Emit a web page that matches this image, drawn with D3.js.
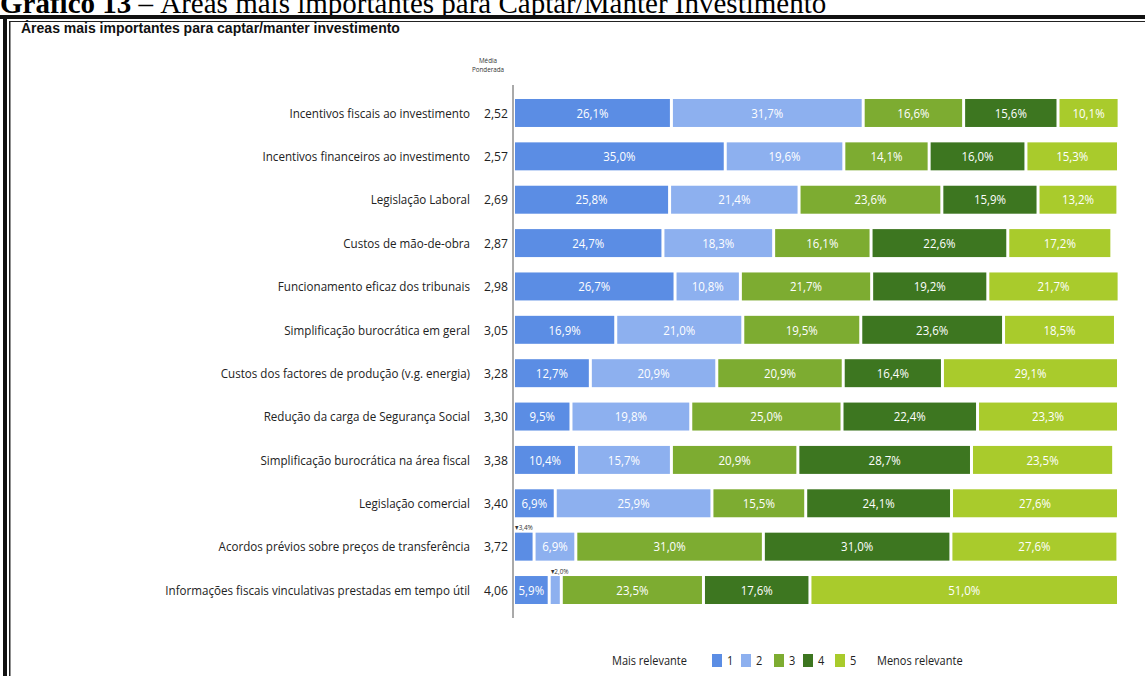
<!DOCTYPE html>
<html><head><meta charset="utf-8">
<script src="https://cdn.jsdelivr.net/npm/d3@7"></script>
<style>
html,body{margin:0;padding:0;background:#fff;}
svg{display:block;}
</style></head>
<body>
<svg id="c" width="1145" height="676"></svg>
<script>
const categories = [
  "Incentivos fiscais ao investimento",
  "Incentivos financeiros ao investimento",
  "Legislação Laboral",
  "Custos de mão-de-obra",
  "Funcionamento eficaz dos tribunais",
  "Simplificação burocrática em geral",
  "Custos dos factores de produção (v.g. energia)",
  "Redução da carga de Segurança Social",
  "Simplificação burocrática na área fiscal",
  "Legislação comercial",
  "Acordos prévios sobre preços de transferência",
  "Informações fiscais vinculativas prestadas em tempo útil"
];
const medias = ["2,52","2,57","2,69","2,87","2,98","3,05","3,28","3,30","3,38","3,40","3,72","4,06"];
const s1 = [26.1,35.0,25.8,24.7,26.7,16.9,12.7,9.5,10.4,6.9,3.4,5.9];
const s2 = [31.7,19.6,21.4,18.3,10.8,21.0,20.9,19.8,15.7,25.9,6.9,2.0];
const s3 = [16.6,14.1,23.6,16.1,21.7,19.5,20.9,25.0,20.9,15.5,31.0,23.5];
const s4 = [15.6,16.0,15.9,22.6,19.2,23.6,16.4,22.4,28.7,24.1,31.0,17.6];
const s5 = [10.1,15.3,13.2,17.2,21.7,18.5,29.1,23.3,23.5,27.6,27.6,51.0];
const seriesNames = ["1","2","3","4","5"];
const colors = ["#5b8de4","#8db0ef","#7dac31","#3d7620","#a9cb2c"];
const headerTitle = "Gráfico 13";
const headerRest = " – Áreas mais importantes para Captar/Manter Investimento";
const chartTitle = "Áreas mais importantes para captar/manter investimento";
const legendLeft = "Mais relevante";
const legendRight = "Menos relevante";

const series = [s1,s2,s3,s4,s5];
const svg = d3.select("#c");
const sans = "'Open Sans',sans-serif";

// condensed text helper: draws text squeezed horizontally
function ctext(parent, x, y, str, o) {
  o = o || {};
  return parent.append("text")
    .attr("transform", `translate(${x},${y}) scale(${o.sx || 0.87},1)`)
    .attr("x",0).attr("y",0).attr("dy", o.dy || "0.35em")
    .attr("text-anchor", o.anchor || "start")
    .attr("font-family", sans).attr("font-size", o.size || 13)
    .attr("fill", o.fill || "#222").text(str);
}

// header
svg.append("text").attr("x",0).attr("y",13)
  .attr("font-family","'Liberation Serif','Times New Roman',serif").attr("font-size",29)
  .attr("fill","#000")
  .call(t=>{ t.append("tspan").attr("font-weight","bold").text(headerTitle);
             t.append("tspan").text(headerRest); });

// frame
svg.append("rect").attr("x",0).attr("y",15).attr("width",1145).attr("height",4).attr("fill","#111");
svg.append("rect").attr("x",9).attr("y",21).attr("width",1136).attr("height",1).attr("fill","#222");
svg.append("rect").attr("x",3).attr("y",15).attr("width",4).attr("height",661).attr("fill","#111");
svg.append("rect").attr("x",9).attr("y",21).attr("width",1.5).attr("height",655).attr("fill","#222");

svg.append("text").attr("x",21).attr("y",33).attr("font-family","'Liberation Sans',Arial,sans-serif")
  .attr("font-weight","bold").attr("font-size",14).attr("fill","#111").text(chartTitle);

ctext(svg, 488, 61, "Média", {anchor:"middle", size:7, fill:"#333", sx:0.9});
ctext(svg, 488, 70, "Ponderada", {anchor:"middle", size:7, fill:"#333", sx:0.9});

const x = d3.scaleLinear().domain([0,100]).range([515,1120]);
const y = d3.scaleBand().domain(categories).range([91.3,611.7]).paddingInner(0.355).paddingOuter(0.1775);

svg.append("line").attr("x1",513).attr("x2",513).attr("y1",85).attr("y2",618)
  .attr("stroke","#555").attr("stroke-width",1);

// category labels
const g = svg.append("g");
categories.forEach((c,i)=>{
  const cy = y(c)+y.bandwidth()/2;
  ctext(g, 470, cy, c, {anchor:"end", size:13.5, sx:0.86});
  ctext(g, 508, cy, medias[i], {anchor:"end", size:13.5, sx:0.9});
});

// bars
const fmt = v => d3.format(".1f")(v).replace(".",",")+"%";
categories.forEach((c,i)=>{
  let cum = 0;
  series.forEach((s,k)=>{
    const v = s[i];
    const x0 = x(cum), x1 = x(cum+v);
    const w = Math.max(1, x1-x0-3);
    g.append("rect").attr("x",x0).attr("y",y(c)).attr("width",w).attr("height",y.bandwidth())
      .attr("fill",colors[k]);
    const cy = y(c)+y.bandwidth()/2;
    if (v >= 5) {
      ctext(g, x0+w/2, cy, fmt(v), {anchor:"middle", size:13.5, fill:"#fff", sx:0.85});
    } else {
      ctext(g, x0, y(c)-5, "▾"+fmt(v), {anchor:"start", size:7.5, fill:"#333", sx:0.85});
    }
    cum += v;
  });
});

// legend
const ly = 661;
ctext(svg, 612, ly, legendLeft, {size:12.5, sx:0.88});
const lx = [712,741,774,803,835];
seriesNames.forEach((n,k)=>{
  svg.append("rect").attr("x",lx[k]).attr("y",ly-7).attr("width",10).attr("height",13).attr("fill",colors[k]);
  ctext(svg, lx[k]+15, ly, n, {size:12.5, sx:0.88});
});
ctext(svg, 877, ly, legendRight, {size:12.5, sx:0.88});
</script>
</body></html>
